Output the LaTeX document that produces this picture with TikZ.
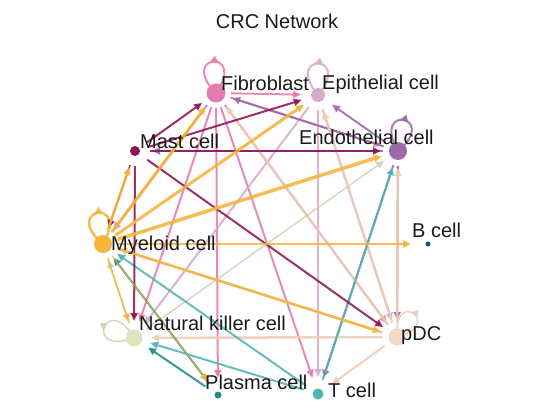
\documentclass[tikz,border=0pt]{standalone}
\usepackage{fontspec}
\setmainfont{Liberation Sans}
\usetikzlibrary{arrows.meta,decorations.markings}
\definecolor{cF}{HTML}{E57AAE}
\definecolor{cEp}{HTML}{D8A9CA}
\definecolor{cEn}{HTML}{9B6AA6}
\definecolor{cB}{HTML}{1F4E79}
\definecolor{cP}{HTML}{F3D9C6}
\definecolor{cPe}{HTML}{ECCDB8}
\definecolor{cT}{HTML}{4EB6B3}
\definecolor{cPl}{HTML}{1A8F8E}
\definecolor{cNK}{HTML}{DDE6BF}
\definecolor{cNKe}{HTML}{CCD4B0}
\definecolor{cMy}{HTML}{F5B43A}
\definecolor{cMa}{HTML}{8E1453}
\definecolor{txt}{HTML}{1A1A1A}
\begin{document}
\begin{tikzpicture}[x=1pt,y=1pt,
  cnode/.style={circle, inner sep=0pt, draw=none},
  lab/.style={anchor=base west, inner sep=0pt, font=\fontsize{20}{24}\selectfont, text=txt},
  link/.style={line width=#1, opacity=0.88, shorten <=15pt, shorten >=17pt, -{Triangle[length=8pt,width=7pt]}},
  link/.default=2pt,
  selfloop/.style={line width=#1, opacity=0.88, postaction={decorate},
    decoration={markings, mark=at position 0.55 with {\arrow{Triangle[length=8pt,width=7pt]}}}},
  selfloop/.default=2pt
]
\useasboundingbox (0,0) rectangle (554,-417);
% ---------- nodes as named circles (filled later, on top of the links) ----------
\path
  (216,-93)  node[cnode, minimum size=19pt] (F) {}
  (318,-95)  node[cnode, minimum size=14pt] (Ep) {}
  (398,-151) node[cnode, minimum size=18pt] (En) {}
  (428,-244) node[cnode, minimum size=5pt]  (B) {}
  (397,-337) node[cnode, minimum size=17pt] (pDC) {}
  (318,-394) node[cnode, minimum size=11pt] (T) {}
  (218,-395) node[cnode, minimum size=7pt]  (Pl) {}
  (134,-338) node[cnode, minimum size=17pt] (NK) {}
  (103,-244) node[cnode, minimum size=18pt] (My) {}
  (135,-151) node[cnode, minimum size=10pt] (Ma) {};
% ---------- self loops ----------
\draw[selfloop=2pt, color=cF]  (F.center)  to[out=55, in=135, min distance=55pt] (F.center);
\draw[selfloop=2pt, color=cEp] (Ep.center) to[out=50, in=130, min distance=55pt] (Ep.center);
\draw[selfloop=2pt, color=cEn] (En.center) to[out=40, in=120, min distance=55pt] (En.center);
\draw[selfloop=2.5pt, color=cMy] (My.center) to[out=60, in=140, min distance=55pt] (My.center);
\draw[selfloop=1.5pt, color=cNKe] (NK.center) to[out=120, in=200, min distance=55pt] (NK.center);
\draw[selfloop=1.5pt, color=cPe] (pDC.center) to[out=15, in=95, min distance=50pt] (pDC.center);
% ---------- Fibroblast ----------
\draw[link=2pt, color=cF] (F.center) -- (My.center);
\draw[link=2pt, color=cF] (F.center) -- (NK.center);
\draw[link=2pt, color=cF] (F.center) -- (Pl.center);
\draw[link=2pt, color=cF] (F.center) -- (T.center);
\draw[link=2pt, color=cF] (F.center) -- (pDC.center);
\draw[link=2pt, color=cF] (F.center) -- (En.center);
\draw[link=2pt, color=cF] (F.center) -- (Ep.center);
% ---------- Epithelial ----------
\draw[link=2pt, color=cEp] (Ep.center) -- (T.center);
\draw[link=2pt, color=cEp] (Ep.center) -- (NK.center);
\draw[link=2pt, color=cEp] (Ep.center) -- (pDC.center);
% ---------- Endothelial ----------
\draw[link=2pt, color=cEn] (En.center) -- (Ep.center);
\draw[link=2pt, color=cEn] (En.center) -- (F.center);
\draw[link=2pt, color=cEn] (En.center) -- (Ma.center);
\draw[link=2pt, color=cEn] (En.center) -- (pDC.center);
\draw[link=2pt, color=cEn] (En.center) -- (T.center);
% ---------- pDC ----------
\draw[link=2.5pt, color=cPe] (pDC.center) -- (F.center);
\draw[link=2.5pt, color=cPe] (pDC.center) -- (Ep.center);
\draw[link=2.5pt, color=cPe] (pDC.center) -- (En.center);
\draw[link=2.5pt, color=cPe] (pDC.center) -- (My.center);
\draw[link=2.5pt, color=cPe] (pDC.center) -- (NK.center);
\draw[link=2pt, color=cPe] (pDC.center) -- (T.center);
% ---------- NK ----------
\draw[link=1.5pt, color=cNKe] (NK.center) -- (My.center);
\draw[link=1.5pt, color=cNKe] (NK.center) -- (En.center);
% ---------- T cell ----------
\draw[link=2pt, color=cT] (T.center) -- (En.center);
\draw[link=2pt, color=cT] (T.center) -- (NK.center);
\draw[link=2pt, color=cT] (T.center) -- (My.center);
% ---------- Plasma ----------
\draw[link=2pt, color=cPl] (Pl.center) -- (My.center);
\draw[link=2pt, color=cPl] (Pl.center) -- (NK.center);
% ---------- Mast ----------
\draw[link=2pt, color=cMa] (Ma.center) -- (F.center);
\draw[link=2pt, color=cMa] (Ma.center) -- (Ep.center);
\draw[link=2.5pt, color=cMa] (Ma.center) -- (En.center);
\draw[link=2pt, color=cMa] (Ma.center) -- (pDC.center);
\draw[link=2pt, color=cMa] (Ma.center) -- (NK.center);
\draw[link=1.5pt, color=cMa] (Ma.center) -- (My.center);
% ---------- Myeloid ----------
\draw[link=2.5pt, color=cMy] (My.center) -- (Ma.center);
\draw[link=3pt, color=cMy] (My.center) -- (F.center);
\draw[link=3pt, color=cMy] (My.center) -- (Ep.center);
\draw[link=3.5pt, color=cMy] (My.center) -- (En.center);
\draw[link=2pt, color=cMy] (My.center) -- (B.center);
\draw[link=2.5pt, color=cMy] (My.center) -- (pDC.center);
\draw[link=1.5pt, color=cMy] (My.center) -- (NK.center);
\draw[link=1pt, color=cMy] (My.center) -- (Pl.center);
% ---------- node discs ----------
\fill[cF]  (F.center)  circle (9.5pt);
\fill[cEp] (Ep.center) circle (7pt);
\fill[cEn] (En.center) circle (9pt);
\fill[cB]  (B.center)  circle (2.5pt);
\fill[cP]  (pDC.center) circle (8.5pt);
\fill[cT]  (T.center)  circle (5.5pt);
\fill[cPl] (Pl.center) circle (3.5pt);
\fill[cNK] (NK.center) circle (8.5pt);
\fill[cMy] (My.center) circle (9pt);
\fill[cMa] (Ma.center) circle (5pt);
% ---------- labels ----------
\node[lab] (lF)  at (221,-91)  {Fibroblast};
\node[lab] (lEp) at (322,-90)  {Epithelial cell};
\node[lab] (lEn) at (299,-144) {Endothelial cell};
\node[lab] (lMa) at (140,-149) {Mast cell};
\node[lab] (lMy) at (111,-250) {Myeloid cell};
\node[lab] (lB)  at (412,-237) {B cell};
\node[lab] (lNK) at (139,-330) {Natural killer cell};
\node[lab] (lpDC) at (401,-340) {pDC};
\node[lab] (lPl) at (205,-389) {Plasma cell};
\node[lab] (lT)  at (328,-397) {T cell};
\node[anchor=base, inner sep=0pt, font=\fontsize{20}{24}\selectfont, text=txt] (title) at (277,-29) {CRC Network};
\end{tikzpicture}
\end{document}
